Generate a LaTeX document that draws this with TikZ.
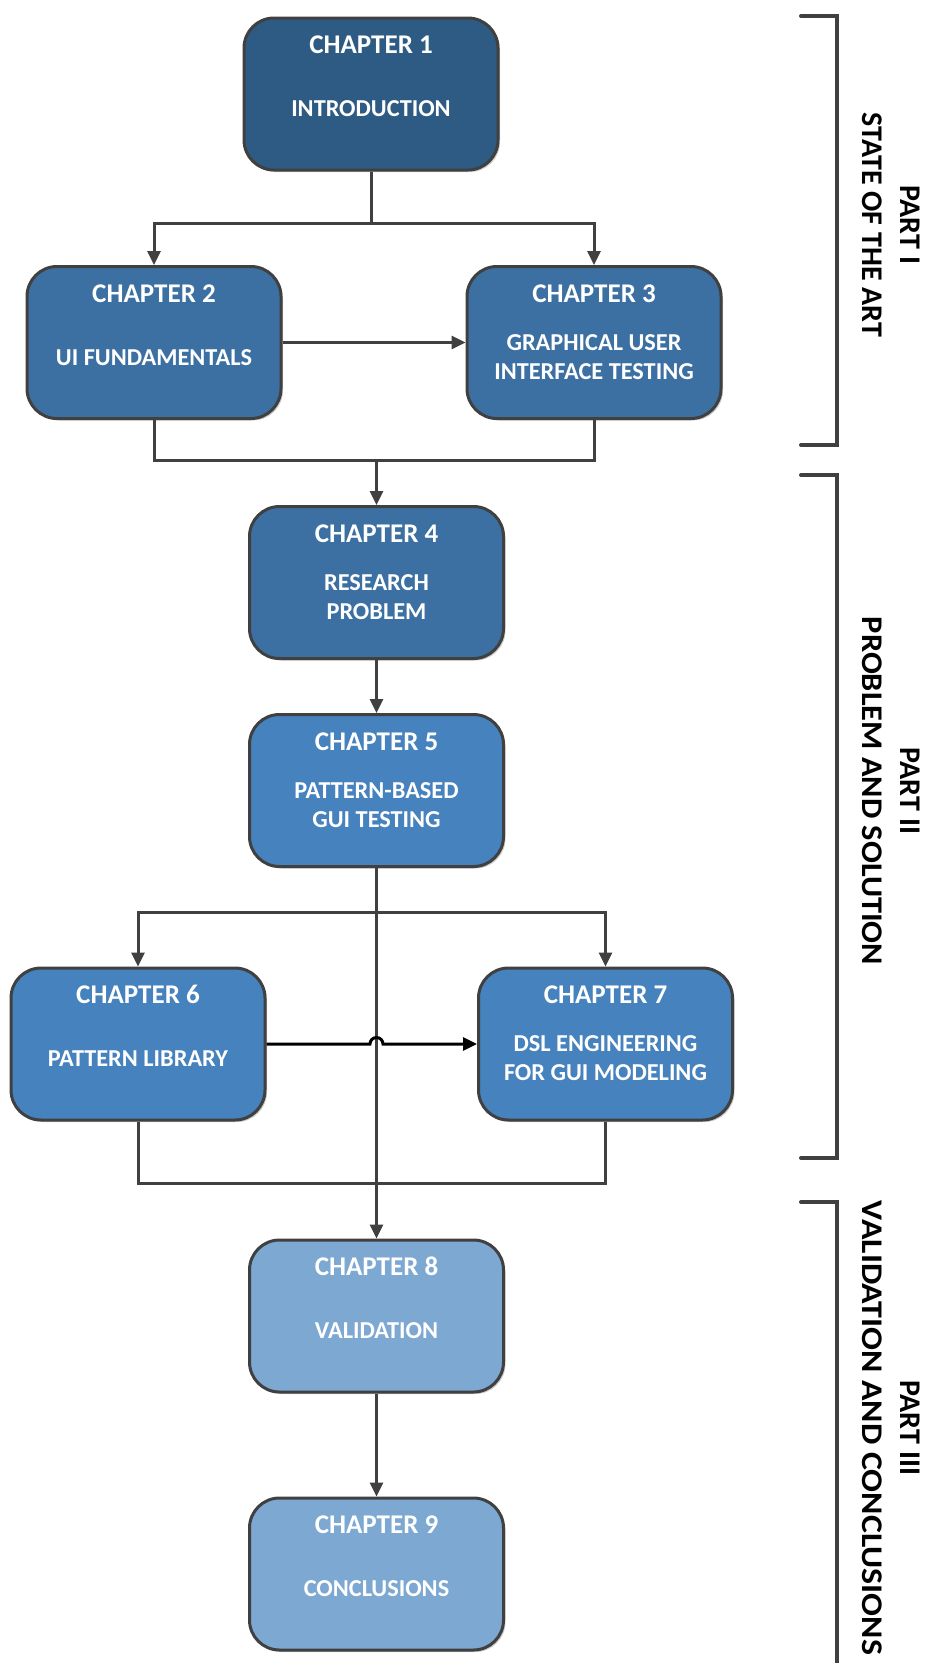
\documentclass[tikz,border=0pt]{standalone}
\usepackage{fontspec}
\setmainfont{Carlito}
\usetikzlibrary{arrows.meta,shadows,calc}

\definecolor{edgegray}{HTML}{404040}
\definecolor{blueA}{HTML}{2E5B83}
\definecolor{blueB}{HTML}{3C70A2}
\definecolor{blueC}{HTML}{4682BD}
\definecolor{blueD}{HTML}{7DA8D2}

\tikzset{
  chapbox/.style={draw=edgegray, line width=3pt, rounded corners=30pt,
    minimum width=254pt, minimum height=152pt, inner sep=0pt,
    drop shadow={shadow xshift=2pt, shadow yshift=-2pt, opacity=0.2, fill=black}},
  chaptitle/.style={anchor=base, text=white, inner sep=0pt,
    font=\fontsize{27}{29}\selectfont\bfseries},
  chaptext/.style={anchor=base, text=white, inner sep=0pt,
    font=\fontsize{24.3}{29}\selectfont\bfseries},
  link/.style={draw=edgegray, line width=3pt},
  arrowlink/.style={link, -{Triangle[length=14pt,width=13pt]}},
  hoplink/.style={draw=black, line width=3pt, -{Triangle[length=14pt,width=13pt]}},
  bracket/.style={draw=edgegray, line width=4pt, line cap=round},
  parttext/.style={rotate=-90, align=center, inner sep=0pt,
    font=\fontsize{30}{38}\selectfont\bfseries},
}

\begin{document}
\begin{tikzpicture}[x=1pt,y=-1pt]
\useasboundingbox (0,0) rectangle (927,1663);

% chapter boxes
\node[chapbox, fill=blueA] (c1) at (371,94) {};
\node[chapbox, fill=blueB] (c2) at (154,342.5) {};
\node[chapbox, fill=blueB] (c3) at (594,342.5) {};
\node[chapbox, fill=blueB] (c4) at (376.5,582.5) {};
\node[chapbox, fill=blueC] (c5) at (376.5,790.5) {};
\node[chapbox, fill=blueC] (c6) at (138,1044) {};
\node[chapbox, fill=blueC] (c7) at (605.5,1044) {};
\node[chapbox, fill=blueD] (c8) at (376.5,1316) {};
\node[chapbox, fill=blueD] (c9) at (376.5,1574) {};

% chapter titles and subjects
\node[chaptitle] (c1t) at ($(c1.north)+(0,37)$) {CHAPTER 1};
\node[chaptext] (c1a) at ($(c1.north)+(0,100)$) {INTRODUCTION};

\node[chaptitle] (c2t) at ($(c2.north)+(0,37)$) {CHAPTER 2};
\node[chaptext] (c2a) at ($(c2.north)+(0,100)$) {UI FUNDAMENTALS};

\node[chaptitle] (c3t) at ($(c3.north)+(0,37)$) {CHAPTER 3};
\node[chaptext] (c3a) at ($(c3.north)+(0,85)$) {GRAPHICAL USER};
\node[chaptext] (c3b) at ($(c3.north)+(0,114)$) {INTERFACE TESTING};

\node[chaptitle] (c4t) at ($(c4.north)+(0,37)$) {CHAPTER 4};
\node[chaptext] (c4a) at ($(c4.north)+(0,85)$) {RESEARCH};
\node[chaptext] (c4b) at ($(c4.north)+(0,114)$) {PROBLEM};

\node[chaptitle] (c5t) at ($(c5.north)+(0,37)$) {CHAPTER 5};
\node[chaptext] (c5a) at ($(c5.north)+(0,85)$) {PATTERN-BASED};
\node[chaptext] (c5b) at ($(c5.north)+(0,114)$) {GUI TESTING};

\node[chaptitle] (c6t) at ($(c6.north)+(0,37)$) {CHAPTER 6};
\node[chaptext] (c6a) at ($(c6.north)+(0,100)$) {PATTERN LIBRARY};

\node[chaptitle] (c7t) at ($(c7.north)+(0,37)$) {CHAPTER 7};
\node[chaptext] (c7a) at ($(c7.north)+(0,85)$) {DSL ENGINEERING};
\node[chaptext] (c7b) at ($(c7.north)+(0,114)$) {FOR GUI MODELING};

\node[chaptitle] (c8t) at ($(c8.north)+(0,37)$) {CHAPTER 8};
\node[chaptext] (c8a) at ($(c8.north)+(0,100)$) {VALIDATION};

\node[chaptitle] (c9t) at ($(c9.north)+(0,37)$) {CHAPTER 9};
\node[chaptext] (c9a) at ($(c9.north)+(0,100)$) {CONCLUSIONS};

% junction points
\coordinate (j1) at ($(c1.south)+(0,52)$);
\coordinate (j2) at (376.5,460);
\coordinate (j3) at (376.5,912);
\coordinate (j4) at (376.5,1183);
\coordinate (hop) at (376.5,1044);

% connectors
\draw[link] (c1.south) -- (j1);
\draw[arrowlink] (j1) -| (c2.north);
\draw[arrowlink] (j1) -| (c3.north);
\draw[arrowlink] (c2.east) -- (c3.west);
\draw[link] (c2.south) |- (j2);
\draw[link] (c3.south) |- (j2);
\draw[arrowlink] (j2) -- (c4.north);
\draw[arrowlink] (c4.south) -- (c5.north);
\draw[arrowlink] (c5.south) -- (c8.north);
\draw[arrowlink] (j3) -| (c6.north);
\draw[arrowlink] (j3) -| (c7.north);
\draw[hoplink] (c6.east) -- ([xshift=-6.5pt]hop) arc[start angle=180, end angle=0, radius=6.5pt] -- (c7.west);
\draw[link] (c6.south) |- (j4);
\draw[link] (c7.south) |- (j4);
\draw[arrowlink] (c8.south) -- (c9.north);

% part brackets
\draw[bracket] (801,16) -- (837,16) -- (837,445) -- (801,445);
\draw[bracket] (801,475) -- (837,475) -- (837,1158) -- (801,1158);
\draw[bracket] (801,1202) -- (837,1202) -- (837,1670);

% part labels
\node[parttext] (p1) at (891,225) {PART I\\STATE OF THE ART};
\node[parttext] (p2) at (891,791) {PART II\\\scalebox{1.08}[1]{PROBLEM AND SOLUTION}};
\node[parttext] (p3) at (891,1428) {PART III\\\scalebox{1.13}[1]{VALIDATION AND CONCLUSIONS}};
\end{tikzpicture}
\end{document}
